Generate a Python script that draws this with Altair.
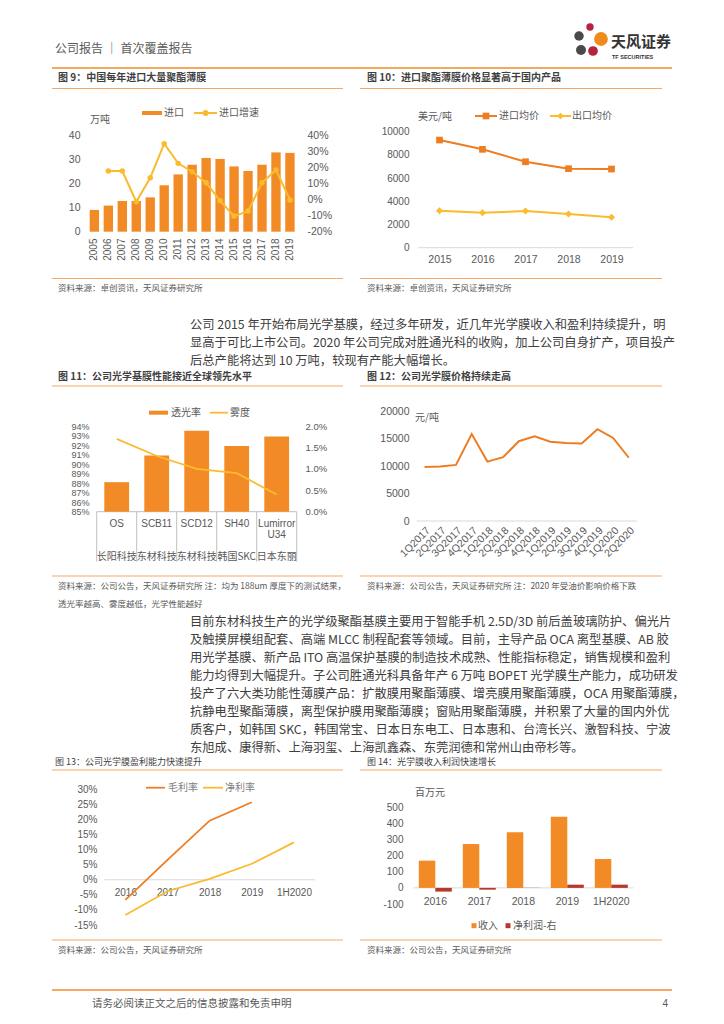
import altair as alt
import pandas as pd

W, H = 708, 1008


def px(x):
    return x - 8


def py(y):
    return y - 8


CJK = "Noto Sans CJK SC"
LAT = "Liberation Sans"
GRAY = "#595959"
DARK = "#3F3F3F"
BODY = "#404040"
ORANGE = "#F28A26"
ORANGE2 = "#EE7D22"
YELLOW = "#FABB2E"
RED = "#B8362B"
RULE = "#F4A766"
HEAD = "#F08C2C"
ZERO = "#D9D9D9"
TABLE = "#BFBFBF"

# ---------------- data ----------------
years9 = ["2005", "2006", "2007", "2008", "2009", "2010", "2011", "2012",
          "2013", "2014", "2015", "2016", "2017", "2018", "2019"]
import9 = [9.0, 10.8, 12.7, 12.7, 14.2, 19.2, 23.7, 27.7, 30.5, 30.1, 27.0, 25.1, 27.7, 32.8, 32.6]
growth9 = [None, 0.176, 0.176, -0.014, 0.135, 0.346, 0.224, 0.172, 0.104, -0.008,
           -0.103, -0.072, 0.104, 0.183, -0.003]

years10 = ["2015", "2016", "2017", "2018", "2019"]
imp_price = [9280, 8480, 7410, 6810, 6780]
exp_price = [3190, 3020, 3160, 2900, 2620]

products = ["OS", "SCB11", "SCD12", "SH40", "Lumirror U34"]
makers = ["长阳科技", "东材科技", "东材科技", "韩国SKC", "日本东丽"]
transmit = [0.881, 0.909, 0.935, 0.919, 0.929]
haze = [0.017, 0.013, 0.010, 0.009, 0.004]

quarters = ["1Q2017", "2Q2017", "3Q2017", "4Q2017", "1Q2018", "2Q2018", "3Q2018",
            "4Q2018", "1Q2019", "2Q2019", "3Q2019", "4Q2019", "1Q2020", "2Q2020"]
price12 = [9800, 9900, 10200, 15800, 10800, 11600, 14500, 15400, 14400, 14200,
           14100, 16700, 15100, 11500]

periods = ["2016", "2017", "2018", "2019", "1H2020"]
gross = [-0.067, 0.066, 0.196, 0.257, None]
net = [-0.117, -0.038, 0.003, 0.053, 0.124]

series14 = ["收入", "净利润-右"]
revenue = [169, 272, 345, 442, 179]
netprofit = [-23, -11, 1, 20, 20]

ticks9l = [0, 10, 20, 30, 40]
ticks9r = [-0.2, -0.1, 0, 0.1, 0.2, 0.3, 0.4]
ticks10 = [0, 2000, 4000, 6000, 8000, 10000]
ticks11l = [0.85, 0.86, 0.87, 0.88, 0.89, 0.90, 0.91, 0.92, 0.93, 0.94]
ticks11r = [0, 0.005, 0.01, 0.015, 0.02]
ticks12 = [0, 5000, 10000, 15000, 20000]
ticks13 = [-0.15, -0.10, -0.05, 0, 0.05, 0.10, 0.15, 0.20, 0.25, 0.30]
ticks14 = [-100, 0, 100, 200, 300, 400, 500]

header_text = "公司报告 ｜ 首次覆盖报告"
titles = ["图 9：中国每年进口大量聚酯薄膜", "图 10：进口聚酯薄膜价格显著高于国内产品",
          "图 11：公司光学基膜性能接近全球领先水平", "图 12：公司光学膜价格持续走高",
          "图 13：公司光学膜盈利能力快速提升", "图 14：光学膜收入利润快速增长"]
src_a = "资料来源：卓创资讯，天风证券研究所"
src_b = "资料来源：公司公告，天风证券研究所"
src11 = ["资料来源：公司公告，天风证券研究所  注：均为 188um 厚度下的测试结果，",
         "透光率越高、雾度越低，光学性能越好"]
src12 = "资料来源：公司公告，天风证券研究所    注：2020 年受油价影响价格下跌"
para1 = ["公司 2015 年开始布局光学基膜，经过多年研发，近几年光学膜收入和盈利持续提升，明",
         "显高于可比上市公司。2020 年公司完成对胜通光科的收购，加上公司自身扩产，项目投产",
         "后总产能将达到 10 万吨，较现有产能大幅增长。"]
para2 = ["目前东材科技生产的光学级聚酯基膜主要用于智能手机 2.5D/3D 前后盖玻璃防护、偏光片",
         "及触摸屏模组配套、高端 MLCC 制程配套等领域。目前，主导产品 OCA 离型基膜、AB 胶",
         "用光学基膜、新产品 ITO 高温保护基膜的制造技术成熟、性能指标稳定，销售规模和盈利",
         "能力均得到大幅提升。子公司胜通光科具备年产 6 万吨 BOPET 光学膜生产能力，成功研发",
         "投产了六大类功能性薄膜产品：扩散膜用聚酯薄膜、增亮膜用聚酯薄膜，OCA 用聚酯薄膜，",
         "抗静电型聚酯薄膜，离型保护膜用聚酯薄膜；窗贴用聚酯薄膜，并积累了大量的国内外优",
         "质客户，如韩国 SKC，韩国常宝、日本日东电工、日本惠和、台湾长兴、激智科技、宁波",
         "东旭成、康得新、上海羽玺、上海凯鑫森、东莞润德和常州山由帝杉等。"]
footer_text = "请务必阅读正文之后的信息披露和免责申明"

PCT0 = "(datum.value < 0 ? '-' : '') + format(abs(datum.value), '.0%')"
INT = "(datum.value < 0 ? '-' : '') + format(abs(datum.value), 'd')"

one = pd.DataFrame({"k": [0]})


def txt(s, x, y, size=10, color=GRAY, weight="normal", align="left", font=CJK, baseline="middle"):
    return alt.Chart(one).mark_text(align=align, baseline=baseline, fontSize=size, color=color,
                                    fontWeight=weight, font=font).encode(
        x=alt.value(px(x)), y=alt.value(py(y)), text=alt.value(s))


def hline(x1, x2, y, color=RULE, w=1.0):
    return alt.Chart(one).mark_rule(color=color, strokeWidth=w).encode(
        x=alt.value(px(x1)), x2=alt.value(px(x2)), y=alt.value(py(y)))


def vline(x, y1, y2, color=TABLE, w=1.0):
    return alt.Chart(one).mark_rule(color=color, strokeWidth=w).encode(
        x=alt.value(px(x)), y=alt.value(py(y1)), y2=alt.value(py(y2)))


def dot(x, y, color, shape="circle", size=30):
    return alt.Chart(one).mark_point(shape=shape, filled=True, opacity=1, color=color, size=size).encode(
        x=alt.value(px(x)), y=alt.value(py(y)))


def box(x1, x2, y1, y2, color):
    return alt.Chart(one).mark_rect(color=color).encode(
        x=alt.value(px(x1)), x2=alt.value(px(x2)), y=alt.value(py(y1)), y2=alt.value(py(y2)))


deco = []
# header
deco += [txt(header_text, 55, 49, size=12, color=GRAY),
         hline(52, 672, 68, HEAD, 1.5),
         dot(579, 36, "#4A4A4A", size=90), dot(581, 50, "#4A4A4A", size=100),
         dot(590, 27, "#B5233F", size=55), dot(601, 39, "#F08A1C", size=190),
         dot(593, 51, "#B5233F", size=95),
         txt("天风证券", 611, 42, size=15, color="#333333", weight="bold"),
         txt("TF SECURITIES", 612, 57, size=5.5, color="#333333", weight="bold", font=LAT)]
# footer
deco += [hline(52, 672, 990, HEAD, 1.5),
         txt(footer_text, 92, 1004, size=10.5, color=GRAY),
         txt("4", 668, 1004, size=10, color=GRAY, align="right", font=LAT)]
# paragraphs
for i, s in enumerate(para1):
    deco.append(txt(s, 190, 325 + 18 * i, size=12.3, color=BODY))
for i, s in enumerate(para2):
    deco.append(txt(s, 190, 622 + 18 * i, size=12.3, color=BODY))

# figure frames
deco += [txt(titles[0], 58, 78, size=10, color=DARK, weight="bold"),
         hline(52, 343, 88.5), hline(52, 343, 278.5),
         txt(src_a, 58, 288, size=8.5),
         txt(titles[1], 367, 78, size=10, color=DARK, weight="bold"),
         hline(360, 662, 88.5), hline(360, 662, 278.5),
         txt(src_a, 367, 288, size=8.5),
         txt(titles[2], 58, 377, size=10, color=DARK, weight="bold"),
         hline(52, 343, 386), hline(52, 343, 576),
         txt(src11[0], 58, 586, size=8.5), txt(src11[1], 58, 604, size=8.5),
         txt(titles[3], 367, 377, size=10, color=DARK, weight="bold"),
         hline(360, 662, 386), hline(360, 662, 576),
         txt(src12, 367, 586, size=8.5),
         txt(titles[4], 55, 762, size=9, color=DARK),
         hline(52, 343, 770), hline(52, 343, 940),
         txt(src_b, 58, 950, size=8.5),
         txt(titles[5], 367, 762, size=9, color=DARK),
         hline(360, 662, 770), hline(360, 662, 940),
         txt(src_b, 367, 950, size=8.5)]

# legends & units
deco += [box(142, 162, 111, 115, ORANGE), txt("进口", 164, 113),
         hline(194, 217, 113, YELLOW, 2), dot(205.5, 113, YELLOW, size=36), txt("进口增速", 219, 113),
         txt("万吨", 90, 120),
         hline(475, 497, 116, ORANGE2, 2), dot(486, 116, ORANGE2, "square", 45), txt("进口均价", 499, 116),
         hline(550, 571, 116, YELLOW, 2), dot(560.5, 116, YELLOW, "diamond", 45), txt("出口均价", 572, 116),
         txt("美元/吨", 418, 117),
         box(149, 168, 410.7, 414.7, ORANGE), txt("透光率", 171, 412.7),
         hline(210, 228, 412.7, YELLOW, 1.8), txt("雾度", 230, 412.7),
         txt("元/吨", 415, 418),
         hline(146, 165, 787.7, ORANGE2, 1.8), txt("毛利率", 168, 787.7, color="#7F7F7F"),
         hline(203, 223, 787.7, YELLOW, 1.8), txt("净利率", 225, 787.7, color="#7F7F7F"),
         txt("百万元", 415, 793),
         box(471.5, 476.5, 923.2, 928.2, ORANGE), txt("收入", 478, 925.7),
         box(505.5, 510.5, 923.2, 928.2, RED), txt("净利润-右", 513, 925.7)]
# fig 11 table lines
deco.append(hline(96.7, 296.7, 511.7, TABLE, 1))
for xv in [96.7, 136.7, 176.7, 216.7, 256.7, 296.7]:
    deco.append(vline(xv, 511.7, 561.7))

# ---------------- fig 9 ----------------
df9 = pd.DataFrame({"year": years9, "imp": import9, "gr": growth9})
x9 = alt.X("year:N", sort=years9, title=None,
           scale=alt.Scale(type="band", range=[px(87.3), px(297)], paddingInner=0.33, paddingOuter=0.17),
           axis=alt.Axis(orient="bottom", offset=py(235) - H, labelAngle=-90, labelPadding=3, labelFontSize=10))
bars9 = alt.Chart(df9).mark_bar(color=ORANGE).encode(
    x=x9,
    y=alt.Y("imp:Q", title=None,
            scale=alt.Scale(domain=[0, 40], range=[py(231.7), py(135)], nice=False),
            axis=alt.Axis(orient="left", offset=-px(84), values=ticks9l, labelPadding=4, labelFontSize=10.5)))
line9 = alt.Chart(df9).mark_line(
    color=YELLOW, strokeWidth=2,
    point=alt.OverlayMarkDef(filled=True, size=30, color=YELLOW, opacity=1)).encode(
    x=x9,
    y=alt.Y("gr:Q", title=None,
            scale=alt.Scale(domain=[-0.2, 0.4], range=[py(231.7), py(135)], nice=False, zero=False),
            axis=alt.Axis(orient="right", offset=px(303) - W, values=ticks9r, labelExpr=PCT0,
                          labelPadding=4, labelFontSize=10.5)))
fig9 = alt.layer(bars9, line9).resolve_scale(y="independent")

# ---------------- fig 10 ----------------
df10 = pd.DataFrame({"year": years10, "imp": imp_price, "exp": exp_price})
x10 = alt.X("year:N", sort=years10, title=None,
            scale=alt.Scale(type="point", range=[px(418), px(633)], padding=0.5),
            axis=alt.Axis(orient="bottom", offset=py(252) - H, labelPadding=2, labelAngle=0, labelFontSize=10.5))
y10s = alt.Scale(domain=[0, 10000], range=[py(247.7), py(131.7)], nice=False)
y10a = alt.Axis(orient="left", offset=-px(413), values=ticks10, labelPadding=4, format="d", labelFontSize=10)
zero10 = alt.Chart(one).mark_rule(color=ZERO).encode(
    x=alt.value(px(418)), x2=alt.value(px(633)), y=alt.Y(datum=0, scale=y10s, axis=y10a, title=None))
imp10 = alt.Chart(df10).mark_line(
    color=ORANGE2, strokeWidth=2,
    point=alt.OverlayMarkDef(shape="square", filled=True, size=45, color=ORANGE2, opacity=1)).encode(
    x=x10, y=alt.Y("imp:Q", title=None, scale=y10s, axis=y10a))
exp10 = alt.Chart(df10).mark_line(
    color=YELLOW, strokeWidth=2,
    point=alt.OverlayMarkDef(shape="diamond", filled=True, size=50, color=YELLOW, opacity=1)).encode(
    x=x10, y=alt.Y("exp:Q", title=None, scale=y10s, axis=y10a))
fig10 = alt.layer(zero10, imp10, exp10)

# ---------------- fig 11 ----------------
df11 = pd.DataFrame({"prod": products, "maker": makers, "tr": transmit, "hz": haze})
x11 = alt.X("prod:N", sort=products, title=None,
            scale=alt.Scale(type="band", range=[px(96.7), px(296.7)], paddingInner=0.38, paddingOuter=0.19),
            axis=None)
bars11 = alt.Chart(df11).mark_bar(color=ORANGE).encode(
    x=x11,
    y=alt.Y("tr:Q", title=None,
            scale=alt.Scale(domain=[0.85, 0.94], range=[py(511.7), py(426)], nice=False, zero=False),
            axis=alt.Axis(orient="left", offset=-px(92), values=ticks11l, format=".0%",
                          labelPadding=3, labelFontSize=9)),
    y2=alt.Y2(datum=0.85))
line11 = alt.Chart(df11).mark_line(color=YELLOW, strokeWidth=1.8).encode(
    x=x11,
    y=alt.Y("hz:Q", title=None,
            scale=alt.Scale(domain=[0, 0.02], range=[py(511.7), py(426)], nice=False),
            axis=alt.Axis(orient="right", offset=px(302) - W, values=ticks11r, format=".1%",
                          labelPadding=3, labelFontSize=9.5)))
prod11 = alt.Chart(df11).mark_text(lineBreak=" ", baseline="top", fontSize=10, font=LAT,
                                   color=GRAY, lineHeight=11.5).encode(
    x=x11, y=alt.value(py(518.5)), text="prod:N")
maker11 = alt.Chart(df11).mark_text(baseline="middle", fontSize=10, font=CJK, color=GRAY).encode(
    x=x11, y=alt.value(py(556.7)), text="maker:N")
fig11 = alt.layer(bars11, line11, prod11, maker11).resolve_scale(y="independent")

# ---------------- fig 12 ----------------
df12 = pd.DataFrame({"q": quarters, "price": price12})
x12 = alt.X("q:N", sort=quarters, title=None,
            scale=alt.Scale(type="point", range=[px(416.7), px(636.7)], padding=0.5),
            axis=alt.Axis(orient="bottom", offset=py(522) - H, labelAngle=-45, labelPadding=3,
                          labelFontSize=10.5))
y12s = alt.Scale(domain=[0, 20000], range=[py(521), py(411)], nice=False)
y12a = alt.Axis(orient="left", offset=-px(413), values=ticks12, format="d", labelPadding=4, labelFontSize=10.5)
zero12 = alt.Chart(one).mark_rule(color=ZERO).encode(
    x=alt.value(px(416.7)), x2=alt.value(px(636.7)), y=alt.Y(datum=0, scale=y12s, axis=y12a, title=None))
line12 = alt.Chart(df12).mark_line(color=ORANGE2, strokeWidth=2).encode(
    x=x12, y=alt.Y("price:Q", title=None, scale=y12s, axis=y12a))
fig12 = alt.layer(zero12, line12)

# ---------------- fig 13 ----------------
df13 = pd.DataFrame({"p": periods, "gross": gross, "net": net})
x13 = alt.X("p:N", sort=periods, title=None,
            scale=alt.Scale(type="point", range=[px(104.3), px(315)], padding=0.5),
            axis=alt.Axis(orient="bottom", offset=py(885) - H, labelPadding=2, labelAngle=0, labelFontSize=10))
y13s = alt.Scale(domain=[-0.15, 0.30], range=[py(925), py(789.3)], nice=False, zero=False)
y13a = alt.Axis(orient="left", offset=-px(100), values=ticks13, labelExpr=PCT0, labelPadding=3, labelFontSize=10)
zero13 = alt.Chart(one).mark_rule(color=ZERO).encode(
    x=alt.value(px(104.3)), x2=alt.value(px(315)), y=alt.Y(datum=0, scale=y13s, axis=y13a, title=None))
g13 = alt.Chart(df13).mark_line(color=ORANGE2, strokeWidth=1.8).encode(
    x=x13, y=alt.Y("gross:Q", title=None, scale=y13s, axis=y13a))
n13 = alt.Chart(df13).mark_line(color=YELLOW, strokeWidth=1.8).encode(
    x=x13, y=alt.Y("net:Q", title=None, scale=y13s, axis=y13a))
fig13 = alt.layer(zero13, g13, n13)

# ---------------- fig 14 ----------------
df14 = pd.concat([
    pd.DataFrame({"p": periods, "series": series14[0], "v": revenue}),
    pd.DataFrame({"p": periods, "series": series14[1], "v": netprofit})], ignore_index=True)
x14 = alt.X("p:N", sort=periods, title=None,
            scale=alt.Scale(type="band", range=[px(413.3), px(633.3)], paddingInner=0.25, paddingOuter=0.125),
            axis=alt.Axis(orient="bottom", offset=py(894) - H, labelPadding=2, labelAngle=0, labelFontSize=10.5))
y14s = alt.Scale(domain=[-100, 500], range=[py(904), py(807.3)], nice=False)
y14a = alt.Axis(orient="left", offset=-px(407), values=ticks14, labelExpr=INT, labelPadding=4, labelFontSize=10)
zero14 = alt.Chart(one).mark_rule(color=ZERO).encode(
    x=alt.value(px(413.3)), x2=alt.value(px(633.3)), y=alt.Y(datum=0, scale=y14s, axis=y14a, title=None))
bars14 = alt.Chart(df14).mark_bar().encode(
    x=x14,
    xOffset=alt.XOffset("series:N", sort=series14),
    y=alt.Y("v:Q", title=None, scale=y14s, axis=y14a),
    color=alt.Color("series:N", scale=alt.Scale(domain=series14, range=[ORANGE, RED]), legend=None))
fig14 = alt.layer(zero14, bars14)

chart = alt.layer(*deco, fig9, fig10, fig11, fig12, fig13, fig14).resolve_scale(
    x="independent", y="independent").properties(
    width=W, height=H, padding=0, background="white",
    autosize=alt.AutoSizeParams(type="none")).configure_view(stroke=None).configure_axis(
    domain=False, ticks=False, grid=False, labelColor=GRAY, labelFont=LAT, labelFontSize=10,
    labelOverlap=False, labelFlush=False)

chart.save("out.html", embed_options={"renderer": "svg", "actions": False})
